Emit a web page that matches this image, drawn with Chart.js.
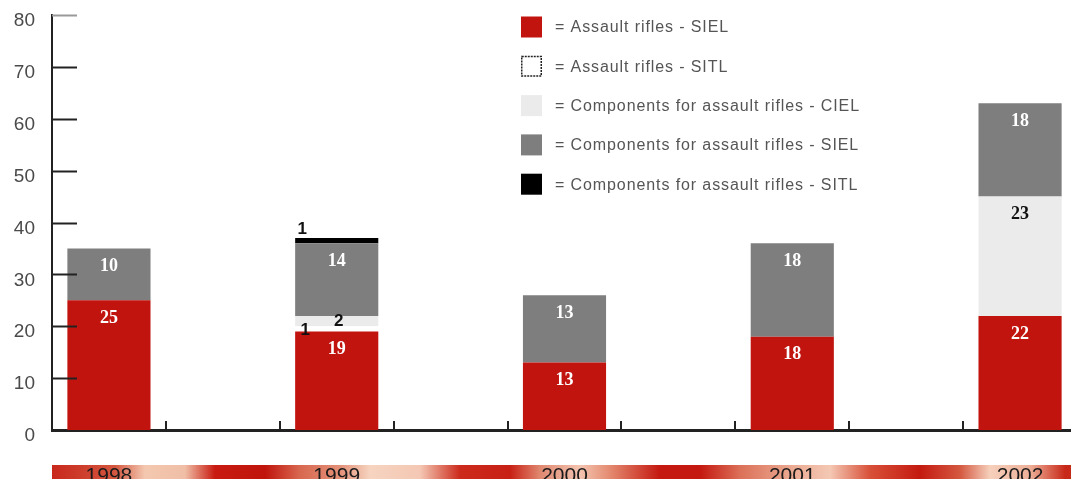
<!DOCTYPE html>
<html><head><meta charset="utf-8">
<script src="https://cdn.jsdelivr.net/npm/chart.js@4.4.1/dist/chart.umd.min.js"></script>
<style>html,body{margin:0;padding:0;background:#fff;overflow:hidden;width:1071px;height:479px}canvas{display:block}</style>
</head><body>
<canvas id="c" width="1077" height="479"></canvas>
<script>
// ---- data ----
const categories = ['1998', '', '1999', '', '2000', '', '2001', '', '2002'];
const seriesNames = [
  'Assault rifles - SIEL',
  'Assault rifles - SITL',
  'Components for assault rifles - CIEL',
  'Components for assault rifles - SIEL',
  'Components for assault rifles - SITL'
];
const assaultSIEL     = [25, null, 19, null, 13, null, 18, null, 22];
const assaultSITL     = [0,  null, 1,  null, 0,  null, 0,  null, 0];
const componentsCIEL  = [0,  null, 2,  null, 0,  null, 0,  null, 23];
const componentsSIEL  = [10, null, 14, null, 13, null, 18, null, 18];
const componentsSITL  = [0,  null, 1,  null, 0,  null, 0,  null, 0];
const yTicks = [0, 10, 20, 30, 40, 50, 60, 70, 80];

// ---- styles ----
const styles = [
  {bg: '#c1140f', label: '#ffffff', small: 'center', legendBorder: null},
  {bg: '#ffffff', label: '#000000', small: 'left',   legendBorder: '#222'},
  {bg: '#ebebeb', label: '#111111', small: 'center', legendBorder: null},
  {bg: '#7e7e7e', label: '#ffffff', small: 'center', legendBorder: null},
  {bg: '#000000', label: '#000000', small: 'above',  legendBorder: null}
];
const seriesData = [assaultSIEL, assaultSITL, componentsCIEL, componentsSIEL, componentsSITL];

const datasets = seriesData.map((d, i) => ({
  label: seriesNames[i],
  data: d,
  backgroundColor: styles[i].bg,
  borderWidth: 0,
  barPercentage: 0.73,
  categoryPercentage: 1.0
}));

// background band behind the year labels
const bandPlugin = {
  id: 'band',
  beforeDraw(chart) {
    const ctx = chart.ctx, x = chart.scales.x;
    const left = chart.chartArea.left, right = chart.width;
    const top = x.top + 35, bottom = chart.height;
    const g = ctx.createLinearGradient(left, 0, right, 0);
    const stops = [
      [52,'#c8281c'],[115,'#d4563f'],[145,'#f4c8b0'],[185,'#f0bea6'],[215,'#c81a10'],
      [265,'#c0140c'],[300,'#d86850'],[340,'#e49078'],[370,'#f6d4c0'],[420,'#f4c8b4'],
      [460,'#cc2a1c'],[510,'#c82015'],[540,'#e08870'],[580,'#f4c4b0'],[610,'#e48a70'],
      [660,'#c41810'],[700,'#c41810'],[740,'#dc7058'],[790,'#eba890'],[830,'#f4c8b4'],
      [870,'#d85038'],[920,'#c41a10'],[960,'#d45840'],[990,'#f6d0bc'],[1030,'#eeb098'],[1065,'#c82818']
    ];
    stops.forEach(([px, c]) => g.addColorStop(Math.min(1, Math.max(0, (px - left) / (right - left))), c));
    ctx.save();
    ctx.fillStyle = g;
    ctx.fillRect(left, top, right - left, bottom - top);
    ctx.restore();
  }
};

// inner tick marks on both axes
const ticksPlugin = {
  id: 'innerTicks',
  afterDraw(chart) {
    const ctx = chart.ctx, x = chart.scales.x, y = chart.scales.y;
    const ca = chart.chartArea;
    ctx.save();
    ctx.lineWidth = 2;
    y.ticks.forEach((t) => {
      if (t.value === 0) return;
      const py = Math.round(y.getPixelForValue(t.value)) + 0.5;
      ctx.strokeStyle = t.value === 80 ? '#999' : '#222';
      ctx.beginPath(); ctx.moveTo(ca.left, py); ctx.lineTo(ca.left + 25, py); ctx.stroke();
    });
    ctx.strokeStyle = '#222';
    for (let i = 0; i < categories.length - 1; i++) {
      const px = Math.round((x.getPixelForTick(i) + x.getPixelForTick(i + 1)) / 2);
      ctx.beginPath(); ctx.moveTo(px, ca.bottom); ctx.lineTo(px, ca.bottom - 9); ctx.stroke();
    }
    ctx.restore();
  }
};

// value labels
const valuePlugin = {
  id: 'values',
  afterDatasetsDraw(chart) {
    const ctx = chart.ctx;
    ctx.save();
    ctx.textAlign = 'center';
    ctx.textBaseline = 'middle';
    chart.data.datasets.forEach((ds, di) => {
      const meta = chart.getDatasetMeta(di);
      meta.data.forEach((bar, i) => {
        const v = ds.data[i];
        if (!v) return;
        const p = bar.getProps(['x', 'y', 'base', 'width'], true);
        const h = p.base - p.y;
        const st = styles[di];
        if (h >= 20) {
          ctx.font = 'bold 18px "Liberation Serif", serif';
          ctx.fillStyle = st.label;
          ctx.fillText(String(v), p.x, p.y + 18);
        } else {
          ctx.font = 'bold 17px "Liberation Sans", sans-serif';
          ctx.fillStyle = '#111';
          if (st.small === 'above') ctx.fillText(String(v), p.x - p.width / 2 + 7, p.y - 9);
          else if (st.small === 'left') ctx.fillText(String(v), p.x - p.width / 2 + 10, (p.y + p.base) / 2 + 1);
          else ctx.fillText(String(v), p.x + 2, (p.y + p.base) / 2);
        }
      });
    });
    ctx.restore();
  }
};

// custom legend drawn inside the plot
const legendPlugin = {
  id: 'customLegend',
  afterDraw(chart) {
    const ctx = chart.ctx;
    const x0 = 521, y0 = 27, step = 39.3, box = 21;
    ctx.save();
    chart.data.datasets.forEach((ds, i) => {
      const cy = y0 + i * step;
      ctx.fillStyle = styles[i].bg;
      ctx.fillRect(x0, cy - box / 2, box, box);
      if (styles[i].legendBorder) {
        ctx.strokeStyle = styles[i].legendBorder;
        ctx.lineWidth = 1.5;
        ctx.setLineDash([2, 1]);
        ctx.strokeRect(x0 + 0.75, cy - box / 2 + 0.75, box - 1.5, box - 1.5);
        ctx.setLineDash([]);
      }
      ctx.fillStyle = '#555';
      ctx.font = '16px "Liberation Sans", sans-serif';
      ctx.letterSpacing = '0.9px';
      ctx.textAlign = 'left';
      ctx.textBaseline = 'middle';
      ctx.fillText('= ' + ds.label, 555, cy + 1);
    });
    ctx.restore();
  }
};

new Chart(document.getElementById('c'), {
  type: 'bar',
  data: { labels: categories, datasets },
  plugins: [bandPlugin, ticksPlugin, valuePlugin, legendPlugin],
  options: {
    responsive: false,
    animation: false,
    devicePixelRatio: 1,
    layout: { padding: { top: 15, right: 0, left: 0, bottom: 0 } },
    plugins: { legend: { display: false }, tooltip: { enabled: false } },
    scales: {
      x: {
        stacked: true,
        offset: true,
        grid: { display: false, offset: true },
        border: { display: true, color: '#222', width: 3 },
        ticks: {
          autoSkip: false, maxRotation: 0, padding: 26, color: '#1a1a1a',
          font: { family: '"Liberation Sans", sans-serif', size: 21 }
        },
        afterFit(s) { s.height = 49; s.paddingLeft = 0; s.paddingRight = 0; }
      },
      y: {
        stacked: true,
        min: 0, max: 80,
        afterBuildTicks(s) { s.ticks = yTicks.map(v => ({ value: v })); },
        grid: { display: false },
        border: { display: true, color: '#222', width: 2 },
        ticks: {
          padding: 9, labelOffset: 6, color: '#4a4a4a',
          font: { family: '"Liberation Sans", sans-serif', size: 19 }
        },
        afterFit(s) { s.width = 52; s.paddingTop = 0; s.paddingBottom = 0; }
      }
    }
  }
});
</script>
</body></html>
